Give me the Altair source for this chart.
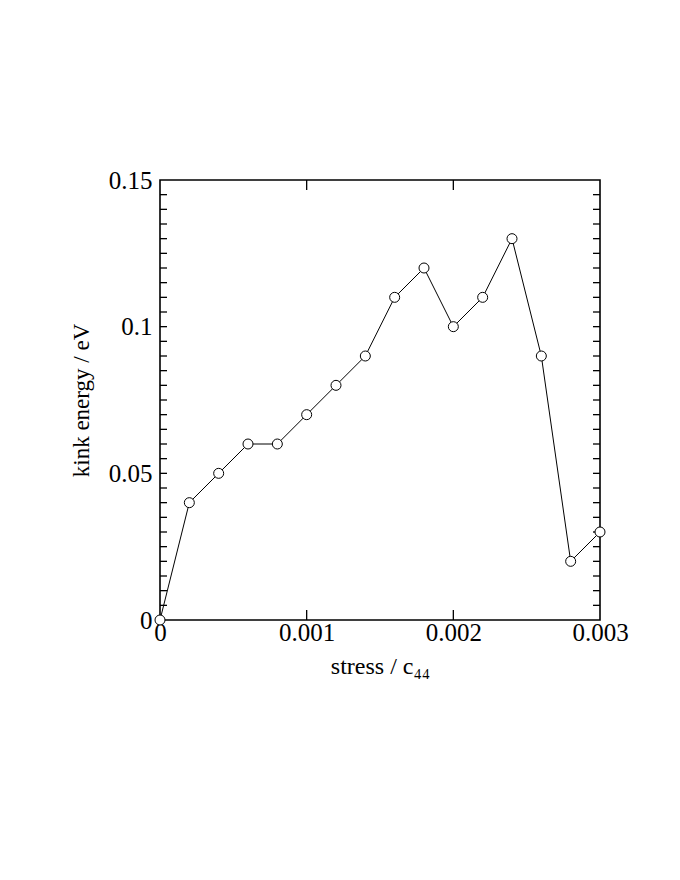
import altair as alt
import pandas as pd

stress = [0.0, 0.0002, 0.0004, 0.0006, 0.0008, 0.0010, 0.0012, 0.0014,
          0.0016, 0.0018, 0.0020, 0.0022, 0.0024, 0.0026, 0.0028, 0.0030]
energy = [0.0, 0.04, 0.05, 0.06, 0.06, 0.07, 0.08, 0.09,
          0.11, 0.12, 0.10, 0.11, 0.13, 0.09, 0.02, 0.03]
x_ticks = [0.001, 0.002]
y_minor = [round(i * 0.005, 3) for i in range(1, 30)]
x_labels = [0, 0.001, 0.002, 0.003]
y_labels = [0, 0.05, 0.1, 0.15]

df = pd.DataFrame({"s": stress, "e": energy})
xt = pd.DataFrame({"s": x_ticks})
yt = pd.DataFrame({"e": y_minor})

FONT = "Liberation Serif"
xs = alt.Scale(domain=[0, 0.003], nice=False, zero=False)
ys = alt.Scale(domain=[0, 0.15], nice=False, zero=False)

xaxis = alt.Axis(values=x_labels, title="stress / c₄₄", tickSize=0, domain=False,
                 grid=False, labelFont=FONT, labelFontSize=25, labelColor="black",
                 labelPadding=0, titleFont=FONT, titleFontSize=24, titleFontWeight="normal",
                 titleColor="black", titlePadding=9,
                 labelExpr="datum.value == 0 ? '0' : format(datum.value, '.3f')",
                 labelFlush=False, labelOverlap=False)
yaxis = alt.Axis(values=y_labels, title="kink energy / eV", tickSize=0, domain=False,
                 grid=False, labelFont=FONT, labelFontSize=25, labelColor="black",
                 labelPadding=8, titleFont=FONT, titleFontSize=23, titleFontWeight="normal",
                 titleColor="black", titlePadding=15,
                 labelExpr="datum.value == 0 ? '0' : datum.value == 0.1 ? '0.1' : format(datum.value, '.2f')",
                 labelFlush=False, labelOverlap=False)

line = alt.Chart(df).mark_line(color="black", strokeWidth=1).encode(
    x=alt.X("s:Q", scale=xs, axis=xaxis),
    y=alt.Y("e:Q", scale=ys, axis=yaxis),
)
pts = alt.Chart(df).mark_point(shape="circle", filled=True, fill="white", stroke="black",
                               strokeWidth=1, size=100, opacity=1).encode(
    x=alt.X("s:Q", scale=xs), y=alt.Y("e:Q", scale=ys))

xb = alt.Chart(xt).mark_rule(color="black", strokeWidth=1.3).encode(
    x=alt.X("s:Q", scale=xs), y=alt.value(440), y2=alt.value(430))
xtop = alt.Chart(xt).mark_rule(color="black", strokeWidth=1.3).encode(
    x=alt.X("s:Q", scale=xs), y=alt.value(0), y2=alt.value(10))
yl = alt.Chart(yt).mark_rule(color="black", strokeWidth=1.3).encode(
    y=alt.Y("e:Q", scale=ys), x=alt.value(0), x2=alt.value(7))
yr = alt.Chart(yt).mark_rule(color="black", strokeWidth=1.3).encode(
    y=alt.Y("e:Q", scale=ys), x=alt.value(440), x2=alt.value(433))

chart = alt.layer(xb, xtop, yl, yr, line, pts).properties(
    width=440, height=440,
    background="white",
    autosize=alt.AutoSizeParams(type="none"),
    padding={"left": 152, "top": 172, "right": 60, "bottom": 240},
).configure_view(stroke="black", strokeWidth=1.6)

chart.save("out.html", embed_options={"renderer": "svg", "actions": False})
